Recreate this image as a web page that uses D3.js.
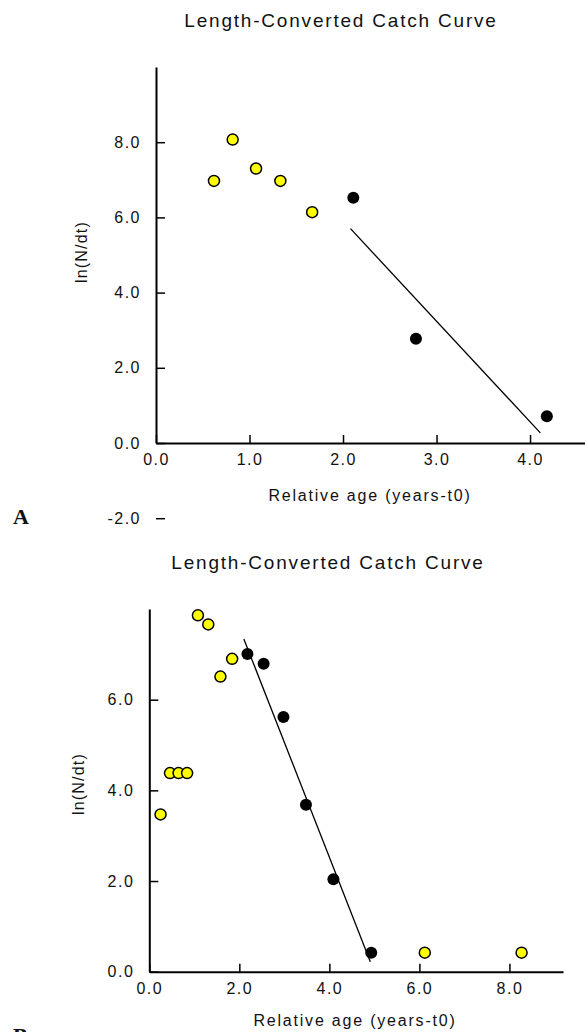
<!DOCTYPE html>
<html>
<head>
<meta charset="utf-8">
<script src="https://cdn.jsdelivr.net/npm/d3@7"></script>
<style>
  body { margin: 0; background: #fff; }
  svg { display: block; }
  text { font-family: "Liberation Sans", Arial, sans-serif; fill: #111; }
</style>
</head>
<body>
<div id="chart"></div>
<script>
// panel A
const ticksAx = [0, 1, 2, 3, 4];
const ticksAy = [-2, 0, 2, 4, 6, 8];
const ageAOpen = [0.62, 0.82, 1.07, 1.33, 1.67];
const lnAOpen = [6.97, 8.07, 7.30, 6.97, 6.14];
const ageAFit = [2.11, 2.78, 4.18];
const lnAFit = [6.52, 2.77, 0.71];
const lineAAge = [2.08, 4.11];
const lineALn = [5.70, 0.27];

// panel B
const ticksBx = [0, 2, 4, 6, 8];
const ticksBy = [0, 2, 4, 6];
const ageBOpen = [0.25, 0.46, 0.65, 0.84, 1.08, 1.31, 1.58, 1.84, 6.12, 8.27];
const lnBOpen = [3.47, 4.38, 4.38, 4.38, 7.86, 7.66, 6.51, 6.90, 0.42, 0.42];
const ageBFit = [2.18, 2.54, 2.98, 3.48, 4.09, 4.93];
const lnBFit = [7.01, 6.79, 5.62, 3.68, 2.04, 0.42];
const lineBAge = [2.10, 4.91];
const lineBLn = [7.34, 0.22];

const title = 'Length-Converted Catch Curve';
const xTitle = 'Relative age (years-t0)';
const yTitle = 'ln(N/dt)';

const svg = d3.select('#chart')
  .append('svg')
  .attr('width', 585)
  .attr('height', 1032);

const fmt = d => d.toFixed(1);

function drawPanel(p) {
  const x = d3.scaleLinear().domain(p.xDomain).range([p.left, p.right]);
  const y = d3.scaleLinear().domain(p.yDomain).range([p.bottom, p.top]);
  const g = svg.append('g');

  // title
  g.append('text')
    .attr('x', p.titleX)
    .attr('y', p.titleY)
    .attr('text-anchor', 'middle')
    .style('font-size', '19px')
    .style('letter-spacing', '1.8px')
    .text(title);

  // X axis
  const xa = g.append('g')
    .attr('transform', `translate(0,${p.bottom})`)
    .call(d3.axisBottom(x).tickValues(p.xTicks).tickFormat(fmt)
      .tickSizeInner(-8).tickSizeOuter(0).tickPadding(11));
  xa.select('.domain').attr('stroke-width', 2);
  xa.selectAll('.tick line').attr('stroke-width', 1.5);
  xa.selectAll('text').style('font-size', '16px').style('letter-spacing', '1.5px').attr('fill', '#111');

  // Y axis
  const ya = g.append('g')
    .attr('transform', `translate(${p.left},0)`)
    .call(d3.axisLeft(y).tickValues(p.yTicks).tickFormat(fmt)
      .tickSizeInner(-9).tickSizeOuter(0).tickPadding(15));
  ya.select('.domain').attr('stroke-width', 2);
  ya.selectAll('.tick line').attr('stroke-width', 1.5);
  ya.selectAll('text').style('font-size', '16px').style('letter-spacing', '1.5px').attr('fill', '#111');

  // axis titles
  g.append('text')
    .attr('x', p.xTitleX)
    .attr('y', p.xTitleY)
    .attr('text-anchor', 'middle')
    .style('font-size', '16px')
    .style('letter-spacing', '1.8px')
    .text(xTitle);

  g.append('text')
    .attr('transform', `translate(${p.yTitleX},${p.yTitleY}) rotate(-90)`)
    .attr('text-anchor', 'middle')
    .style('font-size', '16px')
    .style('letter-spacing', '1.2px')
    .text(yTitle);

  // fitted line
  const line = d3.line().x(d => x(d[0])).y(d => y(d[1]));
  g.append('path')
    .datum(d3.zip(p.lineAge, p.lineLn))
    .attr('d', line)
    .attr('fill', 'none')
    .attr('stroke', '#000')
    .attr('stroke-width', 1.3);

  // points not used in the fit
  g.selectAll('.open')
    .data(d3.zip(p.ageOpen, p.lnOpen))
    .enter()
    .append('circle')
    .attr('cx', d => x(d[0]))
    .attr('cy', d => y(d[1]))
    .attr('r', 5.5)
    .attr('fill', '#ffff00')
    .attr('stroke', '#000')
    .attr('stroke-width', 1.5);

  // points used in the fit
  g.selectAll('.fit')
    .data(d3.zip(p.ageFit, p.lnFit))
    .enter()
    .append('circle')
    .attr('cx', d => x(d[0]))
    .attr('cy', d => y(d[1]))
    .attr('r', 6)
    .attr('fill', '#000');

  // panel letter
  g.append('text')
    .attr('x', 13)
    .attr('y', p.letterY)
    .style('font-family', '"Liberation Serif", "Times New Roman", serif')
    .style('font-weight', 'bold')
    .style('font-size', '22px')
    .attr('fill', '#000')
    .text(p.letter);
}

drawPanel({
  left: 156, right: 595.5, top: 67, bottom: 443,
  xDomain: [0, 4.7], yDomain: [0, 10],
  xTicks: ticksAx, yTicks: ticksAy,
  ageOpen: ageAOpen, lnOpen: lnAOpen, ageFit: ageAFit, lnFit: lnAFit,
  lineAge: lineAAge, lineLn: lineALn,
  titleX: 341, titleY: 27, xTitleX: 370, xTitleY: 501, yTitleX: 87, yTitleY: 252,
  letter: 'A', letterY: 524
});

drawPanel({
  left: 149.3, right: 563, top: 609, bottom: 971.7,
  xDomain: [0, 9.19], yDomain: [0, 8],
  xTicks: ticksBx, yTicks: ticksBy,
  ageOpen: ageBOpen, lnOpen: lnBOpen, ageFit: ageBFit, lnFit: lnBFit,
  lineAge: lineBAge, lineLn: lineBLn,
  titleX: 328, titleY: 569, xTitleX: 355, xTitleY: 1026, yTitleX: 84, yTitleY: 784,
  letter: 'B', letterY: 1043
});
</script>
</body>
</html>
